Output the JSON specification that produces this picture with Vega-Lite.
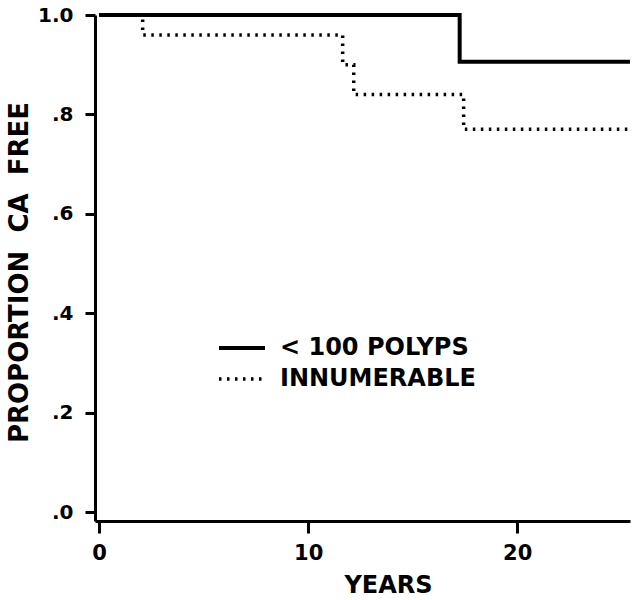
{
  "$schema": "https://vega.github.io/schema/vega-lite/v6.json",
  "width": 535,
  "height": 506,
  "autosize": "none",
  "padding": {"left": 95, "top": 15, "right": 3, "bottom": 79},
  "background": "white",
  "config": {
    "view": {"stroke": null},
    "font": "DejaVu Sans",
    "axis": {"grid": false, "domainColor": "black", "tickColor": "black", "labelColor": "black", "titleColor": "black", "labelFont": "DejaVu Sans", "titleFont": "DejaVu Sans", "labelFontWeight": "bold", "titleFontWeight": "bold", "domainWidth": 3, "tickWidth": 3},
    "legend": {"title": null, "orient": "none", "symbolType": "stroke", "symbolSize": 2116, "symbolStrokeColor": "black", "labelFont": "DejaVu Sans", "labelFontWeight": "bold", "labelFontSize": 24, "labelColor": "black", "labelLimit": 400, "labelOffset": 13}
  },
  "data": {
    "values": [
      {"series": "< 100 POLYPS", "years": 0, "p": 1.0},
      {"series": "< 100 POLYPS", "years": 17.25, "p": 0.906},
      {"series": "< 100 POLYPS", "years": 25.4, "p": 0.906},
      {"series": "INNUMERABLE", "years": 0, "p": 1.0},
      {"series": "INNUMERABLE", "years": 2.08, "p": 0.96},
      {"series": "INNUMERABLE", "years": 11.65, "p": 0.9},
      {"series": "INNUMERABLE", "years": 12.18, "p": 0.84},
      {"series": "INNUMERABLE", "years": 17.44, "p": 0.77},
      {"series": "INNUMERABLE", "years": 25.4, "p": 0.77}
    ]
  },
  "encoding": {
    "x": {
      "field": "years", "type": "quantitative",
      "scale": {"domain": [-0.2, 25.4], "nice": false, "zero": false},
      "axis": {"values": [0, 10, 20], "title": "YEARS", "titleFontSize": 24, "titleX": 293, "titleY": 71, "titleBaseline": "alphabetic", "titleAlign": "center", "titleAnchor": null, "labelFontSize": 21, "tickSize": 12, "labelPadding": 9, "labelFlush": false, "labelOverlap": false}
    },
    "y": {
      "field": "p", "type": "quantitative",
      "scale": {"domain": [-0.018, 1.0], "nice": false, "zero": false},
      "axis": {"values": [0, 0.2, 0.4, 0.6, 0.8, 1.0], "labelExpr": "datum.value == 1 ? '1.0' : replace(format(datum.value, '.1f'), '0.', '.')", "title": "PROPORTION\u00a0 CA\u00a0 FREE", "titleFontSize": 26, "titleX": -68, "titleY": 257, "titleBaseline": "alphabetic", "titleAlign": "center", "titleAngle": -90, "titleAnchor": null, "labelFontSize": 20, "tickSize": 10, "labelPadding": 12, "labelFlush": false, "labelOverlap": false, "labelBaseline": "middle"}
    }
  },
  "layer": [
    {
      "transform": [{"filter": "datum.series == 'INNUMERABLE'"}],
      "mark": {"type": "line", "interpolate": "step-after", "color": "black", "strokeWidth": 3.5},
      "encoding": {
        "strokeDash": {
          "field": "series", "type": "nominal",
          "scale": {"domain": ["INNUMERABLE"], "range": [[2.5, 5.5]]},
          "legend": {"legendX": 122, "legendY": 339, "symbolStrokeWidth": 3.5}
        }
      }
    },
    {
      "transform": [{"filter": "datum.series == '< 100 POLYPS'"}],
      "mark": {"type": "line", "interpolate": "step-after", "color": "black", "strokeWidth": 4},
      "encoding": {
        "strokeDash": {
          "field": "series", "type": "nominal",
          "scale": {"domain": ["< 100 POLYPS"], "range": [[1, 0]]},
          "legend": {"legendX": 122, "legendY": 308, "symbolStrokeWidth": 4}
        }
      }
    }
  ],
  "resolve": {"scale": {"strokeDash": "independent"}, "legend": {"strokeDash": "independent"}}
}
